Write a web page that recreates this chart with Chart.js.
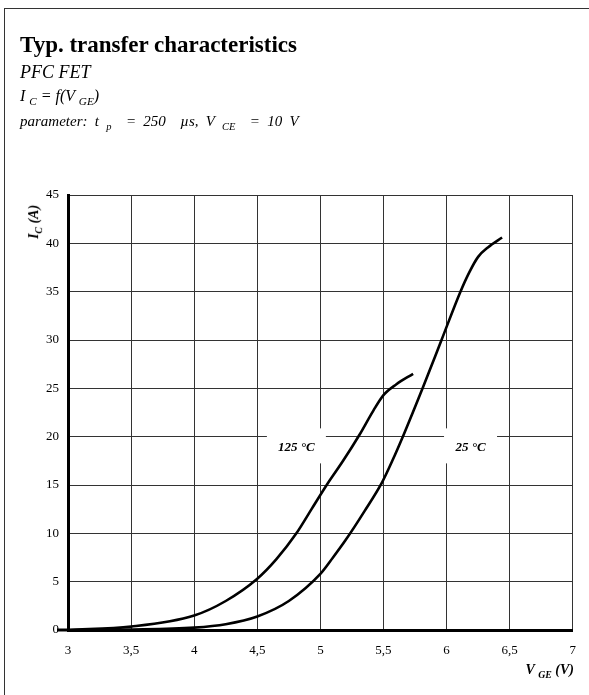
<!DOCTYPE html>
<html>
<head>
<meta charset="utf-8">
<script src="https://cdn.jsdelivr.net/npm/chart.js@4"></script>
<style>
  body { margin: 0; background: #fff; font-family: "Liberation Serif", serif; }
  #wrap { position: relative; width: 589px; height: 695px; overflow: hidden; }
  #frame { position: absolute; left: 4px; top: 8px; width: 620px; height: 720px; border: 1.5px solid #333; }
  #box { position: absolute; left: 0; top: 0; width: 589px; height: 695px; }
  .t { position: absolute; left: 20px; font-style: italic; white-space: nowrap; line-height: 1; }
  sub { font-size: 70%; }
</style>
</head>
<body>
<div id="wrap">
  <div id="frame"></div>
  <div id="box"><canvas id="grafico"></canvas></div>
  <div class="t" style="top:33px;font-size:23px;font-weight:bold;font-style:normal">Typ. transfer characteristics</div>
  <div class="t" style="top:63px;font-size:18px">PFC FET</div>
  <div class="t" style="top:88px;font-size:16px">I <sub>C</sub> = f(V <sub>GE</sub>)</div>
  <div class="t" style="top:114px;font-size:15px;word-spacing:3.5px">parameter: t <sub>p</sub> &nbsp;= 250 &nbsp;µs, V <sub>CE</sub> &nbsp;= 10 V</div>
  <div style="position:absolute;left:5px;top:213px;width:60px;text-align:center;transform:rotate(-90deg);font-style:italic;font-weight:bold;font-size:14px;white-space:nowrap">I<sub>C</sub> (A)</div>
  <div style="position:absolute;right:15px;top:662px;font-style:italic;font-weight:bold;font-size:14px;white-space:nowrap">V <sub>GE</sub> (V)</div>
</div>
<script>
// Datos
const vge25 = [3, 3.5, 4, 4.25, 4.5, 4.75, 5, 5.1, 5.2, 5.35, 5.49, 5.57, 5.66, 5.81, 5.96, 6.11, 6.18, 6.25, 6.33, 6.44];
const ic25  = [0, 0.05, 0.25, 0.6, 1.4, 3.0, 5.8, 7.5, 9.3, 12.3, 15.3, 17.5, 20.2, 25, 30, 35, 37.0, 38.6, 39.6, 40.6];

const vge125 = [3, 3.5, 4, 4.25, 4.5, 4.65, 4.81, 4.93, 5.05, 5.18, 5.31, 5.42, 5.5, 5.6, 5.735];
const ic125  = [0, 0.35, 1.5, 3.0, 5.3, 7.3, 10, 12.5, 15, 17.5, 20.2, 22.7, 24.3, 25.4, 26.5];

const etiquetas = [
    { texto: "125 °C", x: 4.81, y: 19.1, ancho: 59 },
    { texto: "25 °C", x: 6.19, y: 19.1, ancho: 53 }
];

function puntos(xs, ys) {
    return xs.map((x, i) => ({ x: x, y: ys[i] }));
}

const etiquetasPlugin = {
    id: "etiquetas",
    beforeDatasetsDraw(chart) {
        const ctx = chart.ctx;
        const sx = chart.scales.x, sy = chart.scales.y;
        ctx.save();
        // extension del eje x a la izquierda
        ctx.strokeStyle = "#000";
        ctx.lineWidth = 3;
        ctx.beginPath();
        ctx.moveTo(sx.left - 11, sy.getPixelForValue(0));
        ctx.lineTo(sx.left, sy.getPixelForValue(0));
        ctx.stroke();
        etiquetas.forEach(e => {
            const px = sx.getPixelForValue(e.x), py = sy.getPixelForValue(e.y);
            ctx.fillStyle = "#fff";
            ctx.fillRect(px - e.ancho / 2, py - 17, e.ancho, 35);
            ctx.fillStyle = "#000";
            ctx.font = "italic bold 13px 'Liberation Serif'";
            ctx.textAlign = "center";
            ctx.textBaseline = "middle";
            ctx.fillText(e.texto, px, py + 2);
        });
        ctx.restore();
    }
};

new Chart("grafico", {
    type: "scatter",
    data: {
        datasets: [
            { data: puntos(vge25, ic25), showLine: true, borderColor: "#000", borderWidth: 2.6, pointRadius: 0, cubicInterpolationMode: "monotone", fill: false },
            { data: puntos(vge125, ic125), showLine: true, borderColor: "#000", borderWidth: 2.6, pointRadius: 0, cubicInterpolationMode: "monotone", fill: false }
        ]
    },
    options: {
        responsive: true,
        maintainAspectRatio: false,
        animation: false,
        layout: { padding: { left: 10, top: 195, right: 16, bottom: 35 } },
        plugins: { legend: { display: false }, tooltip: { enabled: false } },
        scales: {
            x: {
                type: "linear", min: 3, max: 7,
                afterFit: s => { s.height = 30; },
                ticks: { stepSize: 0.5, padding: 13, color: "#000", font: { family: "Liberation Serif", size: 13 },
                    callback: v => String(v).replace(".", ",") },
                grid: { color: "#333", lineWidth: 1, drawTicks: false },
                border: { color: "#000", width: 3 }
            },
            y: {
                min: 0, max: 45,
                afterFit: s => { s.width = 58; },
                ticks: { stepSize: 5, padding: 9, color: "#000", font: { family: "Liberation Serif", size: 13 } },
                grid: { color: "#333", lineWidth: 1, drawTicks: false },
                border: { color: "#000", width: 3 }
            }
        }
    },
    plugins: [etiquetasPlugin]
});
</script>
</body>
</html>
